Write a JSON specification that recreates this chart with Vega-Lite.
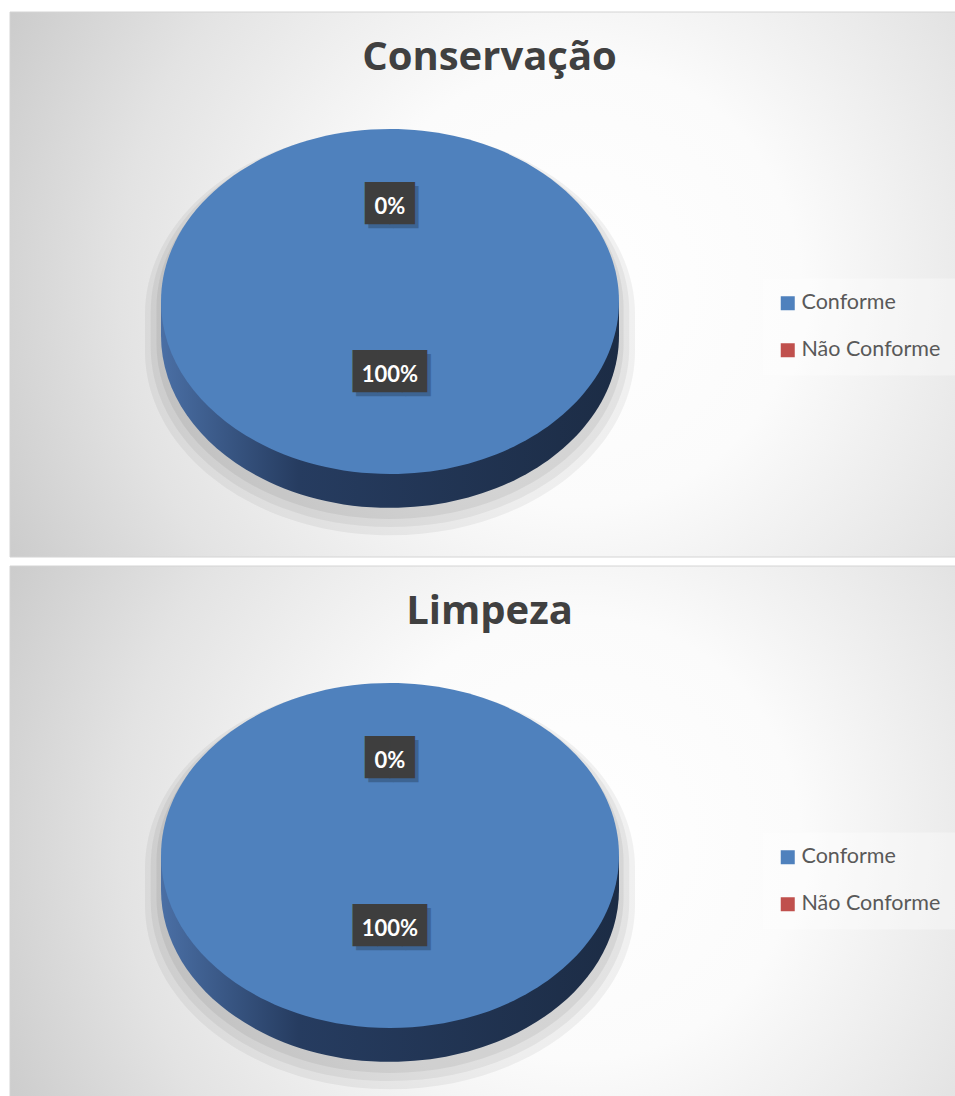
{
  "$schema": "https://vega.github.io/schema/vega-lite/v6.json",
  "background": "#ffffff",
  "padding": {"left": 9, "top": 11, "right": 0, "bottom": 0},
  "config": {"view": {"stroke": null}},
  "spacing": 7,
  "resolve": {"scale": {"color": "independent", "shape": "independent", "theta": "independent"}, "legend": {"color": "independent"}},
  "vconcat": [
    {
      "width": 947,
      "height": 545,
      "title": {"text": "Conservação", "font": "Open Sans", "fontSize": 40, "fontWeight": "bold", "color": "#404040", "anchor": "middle", "frame": "group", "orient": "top", "baseline": "alphabetic", "offset": -98, "dx": 6},
      "data": {"values": [
        {"Status": "Conforme", "value": 100, "label": "100%"},
        {"Status": "Não Conforme", "value": 0, "label": "0%"}
      ]},
      "layer": [
        {
          "data": {"values": [{"fundo": 1}]},
          "mark": {"type": "rect", "fill": {"gradient": "radial", "x1": 0.6, "y1": 0.5, "r1": 0, "x2": 0.6, "y2": 0.5, "r2": 0.78, "stops": [{"offset": 0, "color": "#ffffff"}, {"offset": 0.3, "color": "#fbfbfb"}, {"offset": 0.62, "color": "#e3e3e3"}, {"offset": 1, "color": "#bdbdbd"}]}, "stroke": "#d4d4d4", "strokeWidth": 1},
          "encoding": {"x": {"value": 0}, "x2": {"value": "width"}, "y": {"value": 0}, "y2": {"value": "height"}}
        },
        {
          "transform": [{"filter": "datum.value > 0"}],
          "mark": {"type": "point", "shape": "M-1,0 A1,0.753 0 0 1 1,0 L1,0.148 A1,0.753 0 0 1 -1,0.148 Z", "size": 240198, "filled": true, "fill": "#000000", "opacity": 0.05, "strokeWidth": 0, "xOffset": -93.5, "yOffset": 30},
          "encoding": {}
        },
        {
          "transform": [{"filter": "datum.value > 0"}],
          "mark": {"type": "point", "shape": "M-1,0 A1,0.753 0 0 1 1,0 L1,0.148 A1,0.753 0 0 1 -1,0.148 Z", "size": 229060, "filled": true, "fill": "#000000", "opacity": 0.05, "strokeWidth": 0, "xOffset": -93.5, "yOffset": 27},
          "encoding": {}
        },
        {
          "transform": [{"filter": "datum.value > 0"}],
          "mark": {"type": "point", "shape": "M-1,0 A1,0.753 0 0 1 1,0 L1,0.148 A1,0.753 0 0 1 -1,0.148 Z", "size": 218270, "filled": true, "fill": "#000000", "opacity": 0.06, "strokeWidth": 0, "xOffset": -93.5, "yOffset": 24},
          "encoding": {}
        },
        {
          "transform": [{"filter": "datum.value > 0"}],
          "mark": {"type": "point", "shape": "M-1,0 L1,0 L1,0.148 A1,0.753 0 0 1 -1,0.148 Z", "size": 209764, "filled": true, "fill": {"gradient": "linear", "x1": 0, "y1": 0, "x2": 1, "y2": 0, "stops": [{"offset": 0, "color": "#4a6fa5"}, {"offset": 0.3, "color": "#263c60"}, {"offset": 1, "color": "#1c2c45"}]}, "opacity": 1, "strokeWidth": 0, "xOffset": -93.5, "yOffset": 17},
          "encoding": {}
        },
        {
          "transform": [{"filter": "datum.value > 0"}],
          "mark": {"type": "point", "shape": "M-1,0 A1,0.753 0 0 1 1,0 A1,0.753 0 0 1 -1,0 Z", "size": 209764, "filled": true, "opacity": 1, "strokeWidth": 0, "xOffset": -93.5, "yOffset": 17},
          "encoding": {
            "color": {"field": "Status", "type": "nominal", "scale": {"domain": ["Conforme", "Não Conforme"], "range": ["#4f81bd", "#c0504d"]},
              "legend": {"orient": "none", "legendX": 753, "legendY": 266.5, "title": null, "symbolType": "square", "symbolSize": 196, "symbolStrokeWidth": 0, "labelFont": "Lato", "labelFontSize": 21.5, "labelColor": "#595959", "padding": 14, "rowPadding": 24, "labelOffset": 3, "fillColor": "rgba(255,255,255,0.35)"}}
          }
        },
        {
          "mark": {"type": "text", "radius": 84, "font": "DejaVu Sans Mono", "fontSize": 41, "fill": "#000000", "opacity": 0.22, "baseline": "middle", "align": "center", "xOffset": -90, "yOffset": 5},
          "encoding": {
            "theta": {"field": "value", "type": "quantitative", "stack": true},
            "text": {"condition": {"test": "datum.value >= 100", "value": "▇▇▇"}, "value": "▇▇"}
          }
        },
        {
          "mark": {"type": "text", "radius": 84, "font": "DejaVu Sans Mono", "fontSize": 41, "fill": "#3e3e3e", "baseline": "middle", "align": "center", "xOffset": -93.5, "yOffset": 1},
          "encoding": {
            "theta": {"field": "value", "type": "quantitative", "stack": true},
            "text": {"condition": {"test": "datum.value >= 100", "value": "▇▇▇"}, "value": "▇▇"}
          }
        },
        {
          "mark": {"type": "text", "radius": 84, "font": "Lato", "fontSize": 22, "fontWeight": "bold", "fill": "#ffffff", "baseline": "middle", "align": "center", "xOffset": -93.5, "yOffset": 6},
          "encoding": {
            "theta": {"field": "value", "type": "quantitative", "stack": true},
            "text": {"field": "label"}
          }
        }
      ]
    },
    {
      "width": 947,
      "height": 545,
      "title": {"text": "Limpeza", "font": "Open Sans", "fontSize": 40, "fontWeight": "bold", "color": "#404040", "anchor": "middle", "frame": "group", "orient": "top", "baseline": "alphabetic", "offset": -98, "dx": 6},
      "data": {"values": [
        {"Status": "Conforme", "value": 100, "label": "100%"},
        {"Status": "Não Conforme", "value": 0, "label": "0%"}
      ]},
      "layer": [
        {
          "data": {"values": [{"fundo": 1}]},
          "mark": {"type": "rect", "fill": {"gradient": "radial", "x1": 0.6, "y1": 0.5, "r1": 0, "x2": 0.6, "y2": 0.5, "r2": 0.78, "stops": [{"offset": 0, "color": "#ffffff"}, {"offset": 0.3, "color": "#fbfbfb"}, {"offset": 0.62, "color": "#e3e3e3"}, {"offset": 1, "color": "#bdbdbd"}]}, "stroke": "#d4d4d4", "strokeWidth": 1},
          "encoding": {"x": {"value": 0}, "x2": {"value": "width"}, "y": {"value": 0}, "y2": {"value": "height"}}
        },
        {
          "transform": [{"filter": "datum.value > 0"}],
          "mark": {"type": "point", "shape": "M-1,0 A1,0.753 0 0 1 1,0 L1,0.148 A1,0.753 0 0 1 -1,0.148 Z", "size": 240198, "filled": true, "fill": "#000000", "opacity": 0.05, "strokeWidth": 0, "xOffset": -93.5, "yOffset": 30},
          "encoding": {}
        },
        {
          "transform": [{"filter": "datum.value > 0"}],
          "mark": {"type": "point", "shape": "M-1,0 A1,0.753 0 0 1 1,0 L1,0.148 A1,0.753 0 0 1 -1,0.148 Z", "size": 229060, "filled": true, "fill": "#000000", "opacity": 0.05, "strokeWidth": 0, "xOffset": -93.5, "yOffset": 27},
          "encoding": {}
        },
        {
          "transform": [{"filter": "datum.value > 0"}],
          "mark": {"type": "point", "shape": "M-1,0 A1,0.753 0 0 1 1,0 L1,0.148 A1,0.753 0 0 1 -1,0.148 Z", "size": 218270, "filled": true, "fill": "#000000", "opacity": 0.06, "strokeWidth": 0, "xOffset": -93.5, "yOffset": 24},
          "encoding": {}
        },
        {
          "transform": [{"filter": "datum.value > 0"}],
          "mark": {"type": "point", "shape": "M-1,0 L1,0 L1,0.148 A1,0.753 0 0 1 -1,0.148 Z", "size": 209764, "filled": true, "fill": {"gradient": "linear", "x1": 0, "y1": 0, "x2": 1, "y2": 0, "stops": [{"offset": 0, "color": "#4a6fa5"}, {"offset": 0.3, "color": "#263c60"}, {"offset": 1, "color": "#1c2c45"}]}, "opacity": 1, "strokeWidth": 0, "xOffset": -93.5, "yOffset": 17},
          "encoding": {}
        },
        {
          "transform": [{"filter": "datum.value > 0"}],
          "mark": {"type": "point", "shape": "M-1,0 A1,0.753 0 0 1 1,0 A1,0.753 0 0 1 -1,0 Z", "size": 209764, "filled": true, "opacity": 1, "strokeWidth": 0, "xOffset": -93.5, "yOffset": 17},
          "encoding": {
            "color": {"field": "Status", "type": "nominal", "scale": {"domain": ["Conforme", "Não Conforme"], "range": ["#4f81bd", "#c0504d"]},
              "legend": {"orient": "none", "legendX": 753, "legendY": 266.5, "title": null, "symbolType": "square", "symbolSize": 196, "symbolStrokeWidth": 0, "labelFont": "Lato", "labelFontSize": 21.5, "labelColor": "#595959", "padding": 14, "rowPadding": 24, "labelOffset": 3, "fillColor": "rgba(255,255,255,0.35)"}}
          }
        },
        {
          "mark": {"type": "text", "radius": 84, "font": "DejaVu Sans Mono", "fontSize": 41, "fill": "#000000", "opacity": 0.22, "baseline": "middle", "align": "center", "xOffset": -90, "yOffset": 5},
          "encoding": {
            "theta": {"field": "value", "type": "quantitative", "stack": true},
            "text": {"condition": {"test": "datum.value >= 100", "value": "▇▇▇"}, "value": "▇▇"}
          }
        },
        {
          "mark": {"type": "text", "radius": 84, "font": "DejaVu Sans Mono", "fontSize": 41, "fill": "#3e3e3e", "baseline": "middle", "align": "center", "xOffset": -93.5, "yOffset": 1},
          "encoding": {
            "theta": {"field": "value", "type": "quantitative", "stack": true},
            "text": {"condition": {"test": "datum.value >= 100", "value": "▇▇▇"}, "value": "▇▇"}
          }
        },
        {
          "mark": {"type": "text", "radius": 84, "font": "Lato", "fontSize": 22, "fontWeight": "bold", "fill": "#ffffff", "baseline": "middle", "align": "center", "xOffset": -93.5, "yOffset": 6},
          "encoding": {
            "theta": {"field": "value", "type": "quantitative", "stack": true},
            "text": {"field": "label"}
          }
        }
      ]
    }
  ]
}
